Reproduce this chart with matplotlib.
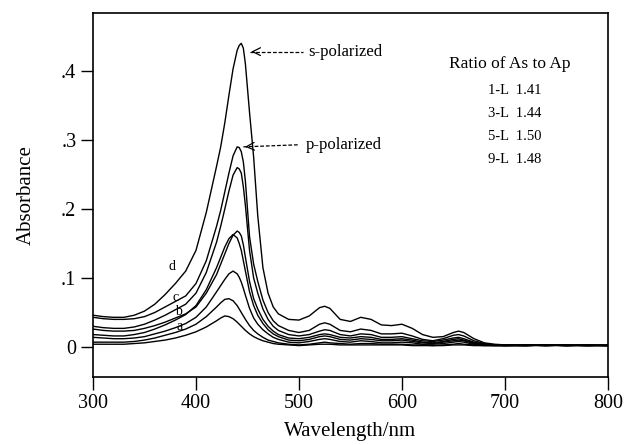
import matplotlib
matplotlib.use("Agg")
import matplotlib.pyplot as plt
import numpy as np

plt.rcParams['font.family'] = ['Liberation Serif', 'DejaVu Serif']

# wavelength grid (nm)
wl = [300, 310, 320, 330, 340, 350, 360, 370, 380, 390, 400, 410, 420,
      424, 428, 432, 436, 440, 442, 444, 446, 448, 452, 456, 460, 465, 470, 475, 480,
      490, 500, 510, 520, 525, 530, 540, 550, 560, 570, 580, 590, 600, 610,
      620, 630, 640, 650, 655, 660, 670, 680, 690, 700, 720, 740, 760, 780, 800]

# absorbance
s9 = [0.046, 0.044, 0.043, 0.043, 0.046, 0.052, 0.062, 0.076, 0.092, 0.110, 0.140, 0.195, 0.262,
      0.290, 0.325, 0.365, 0.403, 0.430, 0.437, 0.440, 0.433, 0.410, 0.340, 0.275, 0.190, 0.115, 0.078, 0.058, 0.048,
      0.040, 0.039, 0.045, 0.057, 0.059, 0.056, 0.040, 0.037, 0.043, 0.040, 0.032, 0.031, 0.033, 0.027,
      0.018, 0.014, 0.015, 0.021, 0.023, 0.021, 0.012, 0.006, 0.004, 0.003, 0.003, 0.002, 0.003, 0.002, 0.002]
p9 = [0.043, 0.041, 0.040, 0.040, 0.041, 0.044, 0.050, 0.058, 0.066, 0.074, 0.092, 0.125, 0.175,
      0.198, 0.225, 0.252, 0.277, 0.290, 0.289, 0.283, 0.268, 0.240, 0.160, 0.120, 0.095, 0.068, 0.050, 0.038, 0.031,
      0.024, 0.021, 0.024, 0.033, 0.035, 0.033, 0.024, 0.022, 0.026, 0.024, 0.019, 0.019, 0.020, 0.016,
      0.011, 0.009, 0.012, 0.017, 0.018, 0.016, 0.009, 0.005, 0.003, 0.003, 0.002, 0.003, 0.002, 0.003, 0.002]
s5 = [0.030, 0.028, 0.027, 0.027, 0.029, 0.033, 0.039, 0.046, 0.054, 0.062, 0.078, 0.108, 0.152,
      0.175, 0.200, 0.226, 0.249, 0.260, 0.258, 0.252, 0.232, 0.205, 0.140, 0.100, 0.078, 0.055, 0.040, 0.030, 0.024,
      0.018, 0.016, 0.018, 0.023, 0.025, 0.024, 0.018, 0.016, 0.019, 0.018, 0.014, 0.014, 0.015, 0.012,
      0.009, 0.008, 0.010, 0.013, 0.014, 0.012, 0.007, 0.004, 0.003, 0.003, 0.002, 0.003, 0.002, 0.002, 0.003]
p5 = [0.026, 0.024, 0.023, 0.023, 0.024, 0.027, 0.031, 0.036, 0.042, 0.048, 0.058, 0.078, 0.105,
      0.120, 0.135, 0.150, 0.162, 0.168, 0.166, 0.161, 0.148, 0.130, 0.095, 0.070, 0.055, 0.040, 0.030, 0.023, 0.018,
      0.013, 0.012, 0.014, 0.018, 0.019, 0.018, 0.014, 0.013, 0.015, 0.014, 0.011, 0.011, 0.012, 0.010,
      0.007, 0.006, 0.008, 0.011, 0.012, 0.010, 0.006, 0.004, 0.003, 0.002, 0.003, 0.002, 0.003, 0.002, 0.002]
s3 = [0.018, 0.017, 0.016, 0.016, 0.018, 0.021, 0.026, 0.032, 0.039, 0.047, 0.060, 0.083, 0.115,
      0.130, 0.145, 0.157, 0.163, 0.158, 0.150, 0.140, 0.125, 0.110, 0.080, 0.060, 0.046, 0.034, 0.025, 0.019, 0.015,
      0.010, 0.009, 0.011, 0.015, 0.016, 0.015, 0.011, 0.010, 0.012, 0.011, 0.009, 0.009, 0.010, 0.008,
      0.006, 0.005, 0.007, 0.009, 0.010, 0.009, 0.005, 0.003, 0.003, 0.002, 0.002, 0.003, 0.002, 0.003, 0.002]
p3 = [0.014, 0.013, 0.012, 0.012, 0.013, 0.015, 0.019, 0.023, 0.028, 0.034, 0.043, 0.058, 0.080,
      0.089, 0.098, 0.106, 0.110, 0.106, 0.101, 0.094, 0.085, 0.075, 0.056, 0.042, 0.033, 0.025, 0.019, 0.014, 0.011,
      0.007, 0.006, 0.008, 0.011, 0.012, 0.011, 0.008, 0.007, 0.009, 0.008, 0.006, 0.006, 0.007, 0.006,
      0.004, 0.004, 0.005, 0.007, 0.008, 0.007, 0.004, 0.003, 0.002, 0.002, 0.003, 0.002, 0.002, 0.003, 0.002]
s1 = [0.007, 0.007, 0.007, 0.007, 0.008, 0.010, 0.013, 0.017, 0.021, 0.026, 0.033, 0.044, 0.058,
      0.064, 0.069, 0.070, 0.067, 0.060, 0.055, 0.050, 0.045, 0.040, 0.031, 0.024, 0.019, 0.014, 0.010, 0.008, 0.006,
      0.004, 0.003, 0.004, 0.006, 0.007, 0.006, 0.005, 0.004, 0.005, 0.005, 0.004, 0.004, 0.004, 0.003,
      0.003, 0.002, 0.003, 0.004, 0.005, 0.004, 0.003, 0.002, 0.002, 0.002, 0.002, 0.003, 0.002, 0.002, 0.003]
p1 = [0.004, 0.004, 0.004, 0.004, 0.005, 0.006, 0.008, 0.010, 0.013, 0.017, 0.022, 0.029, 0.038,
      0.042, 0.045, 0.044, 0.041, 0.036, 0.033, 0.030, 0.027, 0.024, 0.019, 0.015, 0.012, 0.009, 0.007, 0.005, 0.004,
      0.003, 0.002, 0.003, 0.004, 0.004, 0.004, 0.003, 0.003, 0.003, 0.003, 0.003, 0.003, 0.003, 0.002,
      0.002, 0.002, 0.002, 0.003, 0.003, 0.003, 0.002, 0.002, 0.002, 0.002, 0.002, 0.002, 0.003, 0.002, 0.002]

curve_labels = ['a', 'b', 'c', 'd']
label_x = [384, 383, 380, 377]
label_y = [0.030, 0.051, 0.072, 0.117]

ratio_rows = ['1-L  1.41', '3-L  1.44', '5-L  1.50', '9-L  1.48']

fig = plt.figure(figsize=(6.26, 4.45), dpi=100)
ax = fig.add_axes([0.1486, 0.1528, 0.8224, 0.818])

for y in [s9, p9, s5, p5, s3, p3, s1, p1]:
    ax.plot(wl, y, color='black', lw=1.0)

for t, x, y in zip(curve_labels, label_x, label_y):
    ax.text(x, y, t, fontsize=10, ha='center', va='center')

# arrows to the peaks
ax.plot([452, 504], [0.428, 0.428], color='black', lw=0.9, ls=(0, (3, 1.5)))
ax.annotate('', xy=(451, 0.428), xytext=(458, 0.428),
            arrowprops=dict(arrowstyle='->', color='black', lw=0.9, mutation_scale=14))
ax.text(509, 0.428, 's-polarized', fontsize=12, va='center', ha='left')

ax.plot([446, 499], [0.290, 0.293], color='black', lw=0.9, ls=(0, (3, 1.5)))
ax.annotate('', xy=(445, 0.290), xytext=(452, 0.2905),
            arrowprops=dict(arrowstyle='->', color='black', lw=0.9, mutation_scale=14))
ax.text(507, 0.293, 'p-polarized', fontsize=12, va='center', ha='left')

ax.text(705, 0.410, 'Ratio of As to Ap', fontsize=12.5, ha='center', va='center')
for i, row in enumerate(ratio_rows):
    ax.text(684, 0.372 - i * 0.0335, row, fontsize=10.5, ha='left', va='center')

ax.set_xlim(300, 800)
ax.set_ylim(-0.0435, 0.484)
ax.set_xticks([300, 400, 500, 600, 700, 800])
ax.set_yticks([0, 0.1, 0.2, 0.3, 0.4])
ax.set_yticklabels(['0', '.1', '.2', '.3', '.4'])
ax.tick_params(direction='out', length=9, width=1.0, labelsize=14.5, pad=3)
for sp in ax.spines.values():
    sp.set_linewidth(1.2)

ax.set_xlabel('Wavelength/nm', fontsize=15, labelpad=7)
ax.set_ylabel('Absorbance', fontsize=15, labelpad=18)

fig.savefig('out.png', dpi=100)
